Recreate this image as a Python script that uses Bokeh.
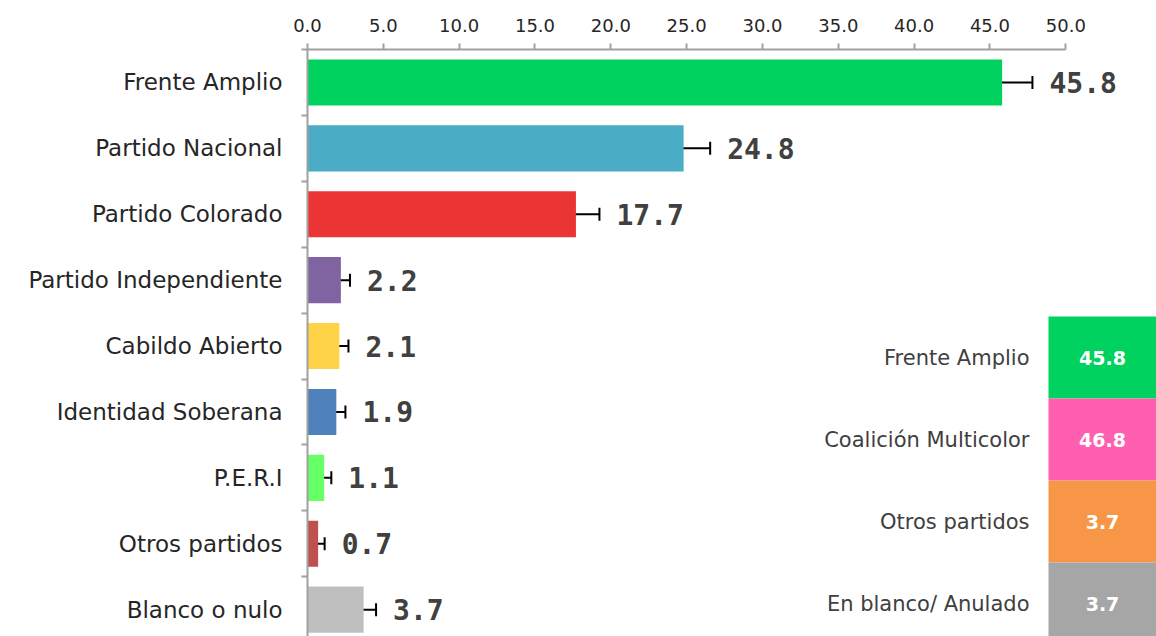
from bokeh.plotting import figure
from bokeh.models import Range1d, FixedTicker, ColumnDataSource, Whisker, TeeHead, NumeralTickFormatter
from bokeh.core.properties import value
from bokeh.embed import file_html
from bokeh.resources import INLINE

# ---- data ----
categories = ["Frente Amplio", "Partido Nacional", "Partido Colorado", "Partido Independiente",
              "Cabildo Abierto", "Identidad Soberana", "P.E.R.I", "Otros partidos", "Blanco o nulo"]
values = [45.8, 24.8, 17.7, 2.2, 2.1, 1.9, 1.1, 0.7, 3.7]
errors = [2.0, 1.75, 1.55, 0.6, 0.6, 0.6, 0.47, 0.43, 0.82]
bar_colors = ["#00D25F", "#4BACC6", "#EB3434", "#8064A2", "#FFD347", "#4F81BD", "#66FF66", "#C0504D", "#BFBFBF"]
x_ticks = [0, 5, 10, 15, 20, 25, 30, 35, 40, 45, 50]

table_labels = ["Frente Amplio", "Coalición Multicolor", "Otros partidos", "En blanco/ Anulado"]
table_values = [45.8, 46.8, 3.7, 3.7]
table_colors = ["#00D25F", "#FF5FAF", "#F79646", "#A6A6A6"]

# ---- layout constants (pixels) ----
W, H = 1156, 636
LEFT, TOP = 307, 49
PX_PER_UNIT = 15.166
ROW_PX = 65.9
frame_w = W - LEFT
frame_h = H - TOP
x_end = frame_w / PX_PER_UNIT
y_end = -0.5 + frame_h / ROW_PX

def px_x(px):  # canvas x -> data x
    return (px - LEFT) / PX_PER_UNIT

def px_y(py):  # canvas y -> data y
    return (py - TOP) / ROW_PX - 0.5

ys = list(range(len(categories)))
src = ColumnDataSource(dict(
    y=ys, v=values, color=bar_colors,
    lo=[v - e for v, e in zip(values, errors)],
    hi=[v + e for v, e in zip(values, errors)],
    lab=[f"{v:.1f}" for v in values],
))

p = figure(width=W, height=H, output_backend="svg", toolbar_location=None,
           x_range=Range1d(0, x_end), y_range=Range1d(y_end, -0.5),
           x_axis_location="above", min_border_left=LEFT, min_border_top=TOP,
           min_border_right=0, min_border_bottom=0)
p.outline_line_color = None
p.grid.grid_line_color = None
p.background_fill_color = "white"
p.border_fill_color = "white"

p.hbar(y="y", right="v", left=0, height=0.70, fill_color="color", line_color=None, source=src)

wh = Whisker(source=src, base="y", lower="lo", upper="hi", dimension="width",
             line_color="black", line_width=2,
             upper_head=TeeHead(size=13, line_color="black", line_width=2),
             lower_head=TeeHead(size=13, line_color="black", line_width=2))
p.add_layout(wh)

p.text(x="hi", y="y", text="lab", source=src, x_offset=17, text_baseline="middle",
       text_font=value("DejaVu Sans Mono"), text_font_style="bold", text_font_size="28px",
       text_color="#404040")

# top axis
xa = p.xaxis[0]
xa.ticker = FixedTicker(ticks=x_ticks)
xa.formatter = NumeralTickFormatter(format="0.0")
xa.bounds = (0, 50)
xa.axis_line_color = "#A0A0A0"
xa.axis_line_width = 2
xa.major_tick_line_color = "#A0A0A0"
xa.major_tick_line_width = 2
xa.major_tick_in = 0
xa.major_tick_out = 6
xa.minor_tick_line_color = None
xa.major_label_text_font = "DejaVu Sans"
xa.major_label_text_font_size = "18px"
xa.major_label_text_color = "#262626"
xa.major_label_standoff = 12

# left axis
ya = p.yaxis[0]
ya.ticker = FixedTicker(ticks=ys, minor_ticks=[i - 0.5 for i in range(len(categories) + 1)])
ya.major_label_overrides = {i: c for i, c in enumerate(categories)}
ya.axis_line_color = "#A0A0A0"
ya.axis_line_width = 2
ya.major_tick_line_color = None
ya.major_tick_in = 0
ya.major_tick_out = 0
ya.minor_tick_line_color = "#A0A0A0"
ya.minor_tick_line_width = 2
ya.minor_tick_in = 0
ya.minor_tick_out = 6
ya.major_label_text_font = "DejaVu Sans"
ya.major_label_text_font_size = "23px"
ya.major_label_text_color = "#262626"
ya.major_label_standoff = 19

# summary table (right)
cell_left, cell_right = px_x(1048), px_x(1156)
cell_top0, cell_h = px_y(316), 82 / ROW_PX
tsrc = ColumnDataSource(dict(
    top=[cell_top0 + i * cell_h for i in range(len(table_labels))],
    bottom=[cell_top0 + (i + 1) * cell_h for i in range(len(table_labels))],
    mid=[cell_top0 + (i + 0.5) * cell_h for i in range(len(table_labels))],
    color=table_colors, lab=table_labels, val=[f"{v:.1f}" for v in table_values],
))
p.quad(left=cell_left, right=cell_right, top="top", bottom="bottom", fill_color="color",
       line_color=None, source=tsrc)
p.text(x=(cell_left + cell_right) / 2, y="mid", text="val", source=tsrc, text_align="center",
       text_baseline="middle", text_font=value("DejaVu Sans"), text_font_style="bold",
       text_font_size="19px", text_color="white")
p.text(x=px_x(1029), y="mid", text="lab", source=tsrc, text_align="right",
       text_baseline="middle", text_font=value("DejaVu Sans"), text_font_size="21px",
       text_color="#404040")

open("out.html", "w").write(file_html(p, INLINE))
